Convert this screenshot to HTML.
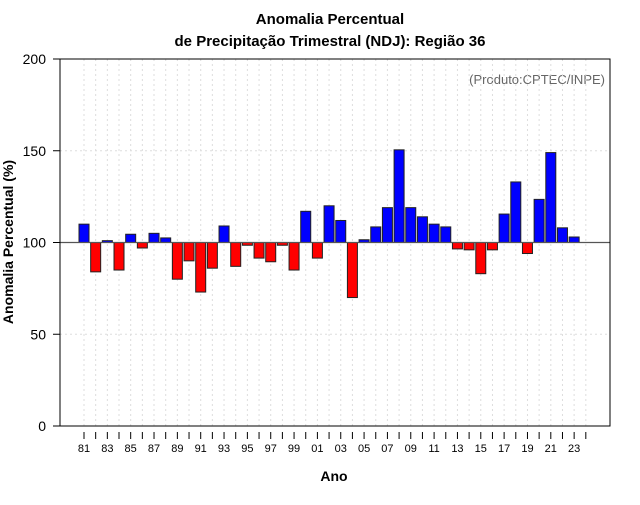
<!DOCTYPE html>
<html><head><meta charset="utf-8"><style>
body{margin:0;background:#fff;}
svg{font-family:"Liberation Sans",sans-serif;}
</style></head><body>
<svg id="chart" width="640" height="500" xmlns="http://www.w3.org/2000/svg">
<text x="330" y="24" text-anchor="middle" font-size="15" font-weight="bold">Anomalia Percentual</text>
<text x="330" y="46" text-anchor="middle" font-size="15" font-weight="bold">de Precipitação Trimestral (NDJ): Região 36</text>
<text x="605" y="84" text-anchor="end" font-size="13" fill="#666">(Produto:CPTEC/INPE)</text>
<text x="334" y="481" text-anchor="middle" font-size="14" font-weight="bold">Ano</text>
<text transform="translate(13,242) rotate(-90)" text-anchor="middle" font-size="14" font-weight="bold">Anomalia Percentual (%)</text>
<g id="grid"></g><g id="bars"></g><g id="axes"></g>
</svg>
<script>
const years=[1981,1982,1983,1984,1985,1986,1987,1988,1989,1990,1991,1992,1993,1994,1995,1996,1997,1998,1999,2000,2001,2002,2003,2004,2005,2006,2007,2008,2009,2010,2011,2012,2013,2014,2015,2016,2017,2018,2019,2020,2021,2022,2023];
const values=[110,84,101,85,104.5,97,105,102.5,80,90,73,86,109,87,98.5,91.5,89.5,98.5,85,117,91.5,120,112,70,101.5,108.5,119,150.5,119,114,110,108.5,96.5,96,83,96,115.5,133,94,123.5,149,108,103];
const yTicks=[0,50,100,150,200];
const firstYear=1981,lastYear=2024;
const NS="http://www.w3.org/2000/svg";
const L=60,R=610,T=59,B=426;
const x=y=>84+(y-firstYear)*11.67;
const yS=v=>B-(v/200)*(B-T);
function mk(t,a,p){const e=document.createElementNS(NS,t);for(const k in a)e.setAttribute(k,a[k]);p.appendChild(e);return e;}
const grid=document.getElementById('grid'),bars=document.getElementById('bars'),axes=document.getElementById('axes');
for(let yr=firstYear;yr<=lastYear;yr++){
 const g=mk('line',{x1:x(yr),x2:x(yr),y1:T,y2:B,stroke:'#ddd','stroke-dasharray':'2,3'},grid);
 
 
 const t=mk('line',{x1:x(yr),x2:x(yr),y1:B+6,y2:B+13,stroke:'#000'},axes);
 
 
 if((yr-firstYear)%2===0){
  const lb=mk('text',{x:x(yr),y:452,'text-anchor':'middle','font-size':11},axes);
  lb.textContent=String(yr%100).padStart(2,'0');
  
  
 }
}
yTicks.forEach(v=>{
 if(v>0&&v<200){const g=mk('line',{x1:L,x2:R,y1:yS(v),y2:yS(v),stroke:'#ddd','stroke-dasharray':'2,3'},grid);
 
 }
 const t=mk('line',{x1:L-7,x2:L,y1:yS(v),y2:yS(v),stroke:'#000'},axes);
 
 
 const lb=mk('text',{x:L-14,y:yS(v)+5,'text-anchor':'end','font-size':14},axes);
 lb.textContent=v;
 
 
});
years.forEach((yr,i)=>{
 const v=values[i],y0=yS(100),y1=yS(v);
 const r=mk('rect',{x:x(yr)-5,y:Math.min(y0,y1),width:10,height:Math.max(1,Math.abs(y1-y0)),fill:v>=100?'#0000ff':'#ff0000',stroke:'#222','stroke-width':1},bars);
 
 
});
const bl=mk('line',{x1:L,x2:R,y1:yS(100),y2:yS(100),stroke:'#555','stroke-width':1.2},axes);


const fr=mk('rect',{x:L,y:T,width:R-L,height:B-T,fill:'none',stroke:'#000'},axes);


</script>
</body></html>
